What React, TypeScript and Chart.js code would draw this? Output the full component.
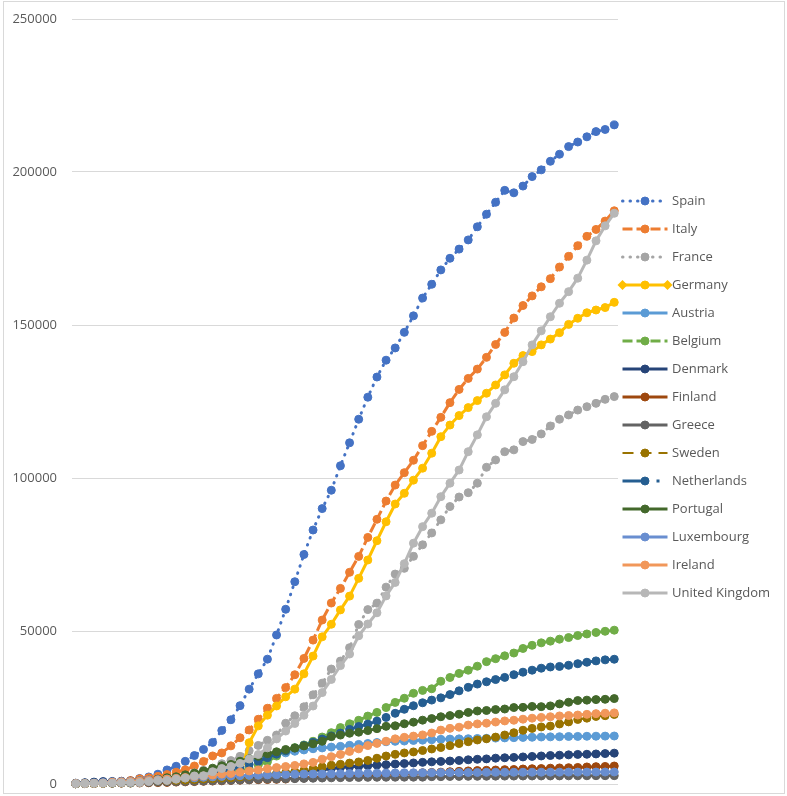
import React, { useEffect, useRef } from "react";
import { Chart, registerables } from "chart.js";

Chart.register(...registerables);

// Days since 100th case
const days = [0,1,2,3,4,5,6,7,8,9,10,11,12,13,14,15,16,17,18,19,20,21,22,23,24,25,26,27,28,29,30,31,32,33,34,35,36,37,38,39,40,41,42,43,44,45,46,47,48,49,50,51,52,53,54,55,56,57,58,59];

const yTicks = [0, 50000, 100000, 150000, 200000, 250000];

const countries = ["Spain","Italy","France","Germany","Austria","Belgium","Denmark","Finland","Greece","Sweden","Netherlands","Portugal","Luxembourg","Ireland","United Kingdom"];

const spain = [165,222,259,400,500,673,1073,1800,2300,3200,4600,5800,7400,9300,11300,13600,17500,21000,25600,31000,36000,40800,48700,57100,66100,75000,83000,90000,96000,104000,111500,119200,126400,133000,138500,142500,147600,153000,158800,163300,168000,171800,174800,177800,182100,186200,190100,194000,193200,195400,198500,200700,203500,205800,208300,209800,211500,213200,213900,215400];
const italy = [155,229,322,453,655,888,1128,1694,2036,2502,3089,3858,4636,5883,7375,9172,10149,12462,15113,17660,21157,24747,27980,31506,35713,41035,47021,53578,59138,63927,69176,74386,80589,86498,92472,97689,101739,105792,110574,115242,119827,124632,128948,132547,135586,139422,143626,147577,152271,156363,159516,162488,165155,168941,172434,175925,178972,181228,183957,187327];
const france = [100,130,191,204,285,377,653,949,1126,1209,1784,2281,2281,3661,4469,4499,6633,7652,9043,10871,12612,14282,16018,19856,22304,25233,29155,32964,37575,40174,44550,52128,56989,59105,64338,68605,70478,74390,78167,82048,86334,90676,93790,95200,98300,103500,105900,108600,109200,111900,112600,114400,117000,119200,120600,122200,123300,124400,125700,126600];
const germany = [130,159,196,262,482,670,799,1040,1176,1457,1908,2078,2150,2200,2250,2300,2350,2400,2450,13500,19000,22500,25500,28500,31000,36000,41800,48100,52200,56900,61400,67200,73200,79500,85700,91500,95000,99300,103200,108100,113500,117300,120400,123000,125300,127700,130400,133700,137500,140000,141300,143500,145400,147500,150200,152200,154000,154900,155700,157400];
const austria = [104,131,182,246,302,504,655,860,1018,1332,1646,2013,2388,2814,3582,4474,5283,5588,6909,7657,8271,8788,9618,10180,10711,11129,11524,11781,12051,12297,12639,12942,13244,13555,13806,13945,14041,14226,14336,14476,14595,14671,14749,14795,14873,14925,15002,15071,15148,15225,15274,15357,15402,15452,15531,15558,15597,15621,15650,15684];
const belgium = [109,169,200,239,267,314,314,559,689,886,1058,1243,1486,1795,2257,2815,3401,3743,4269,4937,6235,7284,9134,10836,11899,12775,13964,15348,16770,18431,19691,20814,22194,23403,24983,26667,28018,29647,30589,31119,33573,34809,36138,37183,38496,39983,40956,41889,42797,44293,45325,46134,46687,47334,47859,48519,49032,49517,49906,50267];
const denmark = [262,442,615,801,827,864,914,977,1057,1151,1255,1326,1395,1450,1591,1724,1877,2046,2201,2395,2577,2860,3107,3386,3757,4077,4369,4681,5071,5402,5635,5819,5996,6174,6318,6511,6681,6879,7073,7242,7384,7515,7695,7912,8073,8210,8445,8575,8698,8851,9008,9158,9311,9407,9523,9670,9721,9821,9938,10083];
const finland = [109,156,156,225,244,277,321,336,400,450,523,626,700,792,880,958,1041,1167,1240,1352,1418,1446,1518,1615,1882,1927,2176,2308,2487,2605,2769,2905,2974,3064,3161,3237,3369,3489,3681,3783,3868,4014,4129,4284,4395,4475,4576,4695,4740,4906,4995,5051,5176,5254,5327,5412,5573,5673,5738,5880];
const greece = [190,228,331,331,387,418,418,495,530,624,695,743,821,892,966,1061,1156,1212,1314,1415,1544,1613,1673,1735,1755,1832,1884,1955,2011,2081,2114,2145,2170,2192,2207,2224,2235,2235,2245,2401,2408,2463,2490,2506,2517,2534,2566,2576,2591,2612,2620,2626,2632,2642,2663,2678,2691,2710,2716,2726];
const sweden = [101,161,203,248,355,500,599,814,961,1022,1103,1190,1279,1439,1639,1763,1934,2046,2286,2526,2840,3069,3447,3700,4028,4435,4947,5568,6131,6443,6830,7206,7693,8419,9141,9685,10151,10483,10948,11445,11927,12540,13216,13822,14385,14777,15322,16004,16755,17567,18177,18640,18926,19621,20302,21092,21520,22082,22317,22721];
const netherlands = [128,188,265,321,382,503,503,804,959,1135,1413,1705,2051,2460,2994,3631,4204,4749,5560,6412,7431,8603,9762,10866,11750,12595,13614,14697,15723,16627,17851,18803,19580,20549,21762,23097,24413,25587,26551,27419,28153,29214,30449,31589,32655,33405,34134,34842,35729,36535,37190,37845,38245,38416,38802,39316,39791,40236,40571,40770];
const portugal = [112,169,245,331,448,642,785,1020,1280,1600,2060,2362,2995,3544,4268,5170,5962,6408,7443,8251,9034,9886,10524,11278,11730,12442,13141,13956,15472,15987,16585,16934,17448,18091,18841,19022,19685,20206,20863,21379,21982,22353,22797,23392,23864,24027,24322,24505,24987,25045,25351,25282,25524,26182,26715,27268,27406,27581,27679,27913];
const luxembourg = [140,203,335,484,670,798,875,1099,1333,1453,1605,1831,1950,1988,2178,2319,2487,2612,2729,2804,2843,2970,3034,3115,3223,3270,3281,3292,3307,3373,3444,3480,3537,3550,3558,3618,3654,3665,3695,3711,3723,3729,3741,3769,3784,3802,3812,3824,3828,3840,3851,3859,3871,3877,3886,3888,3894,3904,3915,3923];
const ireland = [129,169,223,292,557,683,785,906,1125,1329,1564,1819,2121,2415,2615,2910,3235,3447,3849,4273,4604,4994,5364,5709,6074,6574,7054,8089,8928,9655,10647,11479,12547,13271,13980,14758,15251,15652,16040,16671,17607,18184,18561,19262,19648,19877,20253,20612,20833,21176,21506,21772,21983,22248,22385,22541,22760,22996,23135,23242];
const unitedKingdom = [116,164,207,274,322,384,459,459,802,1144,1145,1551,1960,2642,2716,4014,5067,5745,6726,8164,9640,11812,14745,17312,19780,22453,25481,29865,34173,38689,42477,48436,52279,55949,61474,65872,72000,78700,84100,88500,93900,98300,102600,108600,114100,120000,124400,128800,133100,138000,143500,148100,152700,157100,160900,165300,171200,177500,182400,186500];

const seriesValues = [spain, italy, france, germany, austria, belgium, denmark, finland, greece, sweden, netherlands, portugal, luxembourg, ireland, unitedKingdom];

// Styles (Excel Office palette)
const colors = ["#4472C4","#ED7D31","#A5A5A5","#FFC000","#5B9BD5","#70AD47","#264478","#9E480E","#636363","#997300","#255E91","#43682B","#698ED0","#F1975A","#B7B7B7"];
const dashes: number[][] = [[0.5,7],[10,4],[0.5,7],[],[],[10,4],[],[],[],[11,7],[24,10,3,10],[],[],[],[]];
const caps = ["round","butt","round","butt","butt","butt","butt","butt","butt","butt","butt","butt","butt","butt","butt"];
const widths = [3,3,3,3,3,3,3,3,3,2,3,3,3,3,3];

const FONT = "'Open Sans', 'Liberation Sans', sans-serif";
const TEXT_COLOR = "#595959";

const framePlugin = {
  id: "frame",
  beforeDraw(chart: any) {
    const { ctx, width, height } = chart;
    ctx.save();
    ctx.fillStyle = "#ffffff";
    ctx.fillRect(0, 0, width, height);
    ctx.strokeStyle = "#D9D9D9";
    ctx.lineWidth = 1;
    ctx.strokeRect(3.5, 1.5, width - 6, height - 4);
    ctx.restore();
  },
};

const legendPlugin = {
  id: "excelLegend",
  afterDraw(chart: any) {
    const { ctx, chartArea } = chart;
    const x0 = chartArea.right + 4.5;
    const x1 = chartArea.right + 49.5;
    const xm = (x0 + x1) / 2;
    chart.data.datasets.forEach((ds: any, k: number) => {
      const y = 201 + 28 * k;
      ctx.save();
      ctx.strokeStyle = ds.borderColor;
      ctx.lineWidth = ds.borderWidth;
      ctx.lineCap = ds.borderCapStyle;
      ctx.setLineDash(ds.borderDash);
      ctx.beginPath();
      ctx.moveTo(x0, y);
      ctx.lineTo(x1, y);
      ctx.stroke();
      ctx.setLineDash([]);
      ctx.lineCap = "butt";
      if (ds.label === "Germany") {
        ctx.fillStyle = ds.borderColor;
        [x0, x1].forEach((dx) => {
          ctx.beginPath();
          ctx.moveTo(dx, y - 5);
          ctx.lineTo(dx + 5, y);
          ctx.lineTo(dx, y + 5);
          ctx.lineTo(dx - 5, y);
          ctx.closePath();
          ctx.fill();
        });
      }
      ctx.fillStyle = ds.pointBackgroundColor;
      ctx.strokeStyle = ds.pointBorderColor;
      ctx.lineWidth = 1;
      ctx.beginPath();
      ctx.arc(xm, y, 4, 0, Math.PI * 2);
      ctx.fill();
      ctx.stroke();
      ctx.fillStyle = TEXT_COLOR;
      ctx.font = `13px ${FONT}`;
      ctx.textAlign = "left";
      ctx.textBaseline = "middle";
      ctx.fillText(ds.label, x1 + 4.5, y + 0.5);
      ctx.restore();
    });
  },
};

export default function App() {
  const canvasRef = useRef<HTMLCanvasElement | null>(null);

  useEffect(() => {
    const canvas = canvasRef.current;
    if (!canvas) return;
    const datasets = countries.map((name, k) => ({
      label: name,
      data: days.map((d, i) => ({ x: d, y: seriesValues[k][i] })),
      borderColor: colors[k],
      backgroundColor: colors[k],
      borderWidth: widths[k],
      borderDash: dashes[k],
      borderCapStyle: caps[k],
      borderJoinStyle: "round",
      pointRadius: 4,
      pointBorderWidth: 1,
      pointBackgroundColor: colors[k],
      pointBorderColor: colors[k],
      pointStyle: "circle",
      tension: 0,
      fill: false,
      clip: false,
      order: countries.length - 1 - k,
    }));

    const chart = new Chart(canvas, {
      type: "line",
      data: { datasets } as any,
      options: {
        animation: false,
        responsive: false,
        events: [],
        layout: { padding: { left: 0, right: 169, top: 19, bottom: 12 } },
        plugins: {
          legend: { display: false },
          tooltip: { enabled: false },
        },
        scales: {
          x: {
            type: "linear",
            display: false,
            min: days[0] - 0.41,
            max: days[days.length - 1] + 0.41,
          },
          y: {
            min: yTicks[0],
            max: yTicks[yTicks.length - 1],
            afterFit: (scale: any) => {
              scale.width = 72;
            },
            afterBuildTicks: (scale: any) => {
              scale.ticks = yTicks.map((v) => ({ value: v }));
            },
            border: { display: false },
            grid: {
              color: "#D9D9D9",
              lineWidth: 1,
              drawTicks: true,
              tickLength: 15,
              tickColor: "rgba(0,0,0,0)",
            },
            ticks: {
              padding: 0,
              color: TEXT_COLOR,
              font: { family: FONT, size: 13 },
              callback: (v: any) => String(v),
            },
          },
        },
      } as any,
      plugins: [framePlugin, legendPlugin],
    });
    return () => chart.destroy();
  }, []);

  return (
    <div style={{ position: "fixed", left: 0, top: 0, width: 787, height: 796, background: "#ffffff" }}>
      <canvas ref={canvasRef} width={787} height={796} style={{ display: "block", width: 787, height: 796 }} />
    </div>
  );
}
